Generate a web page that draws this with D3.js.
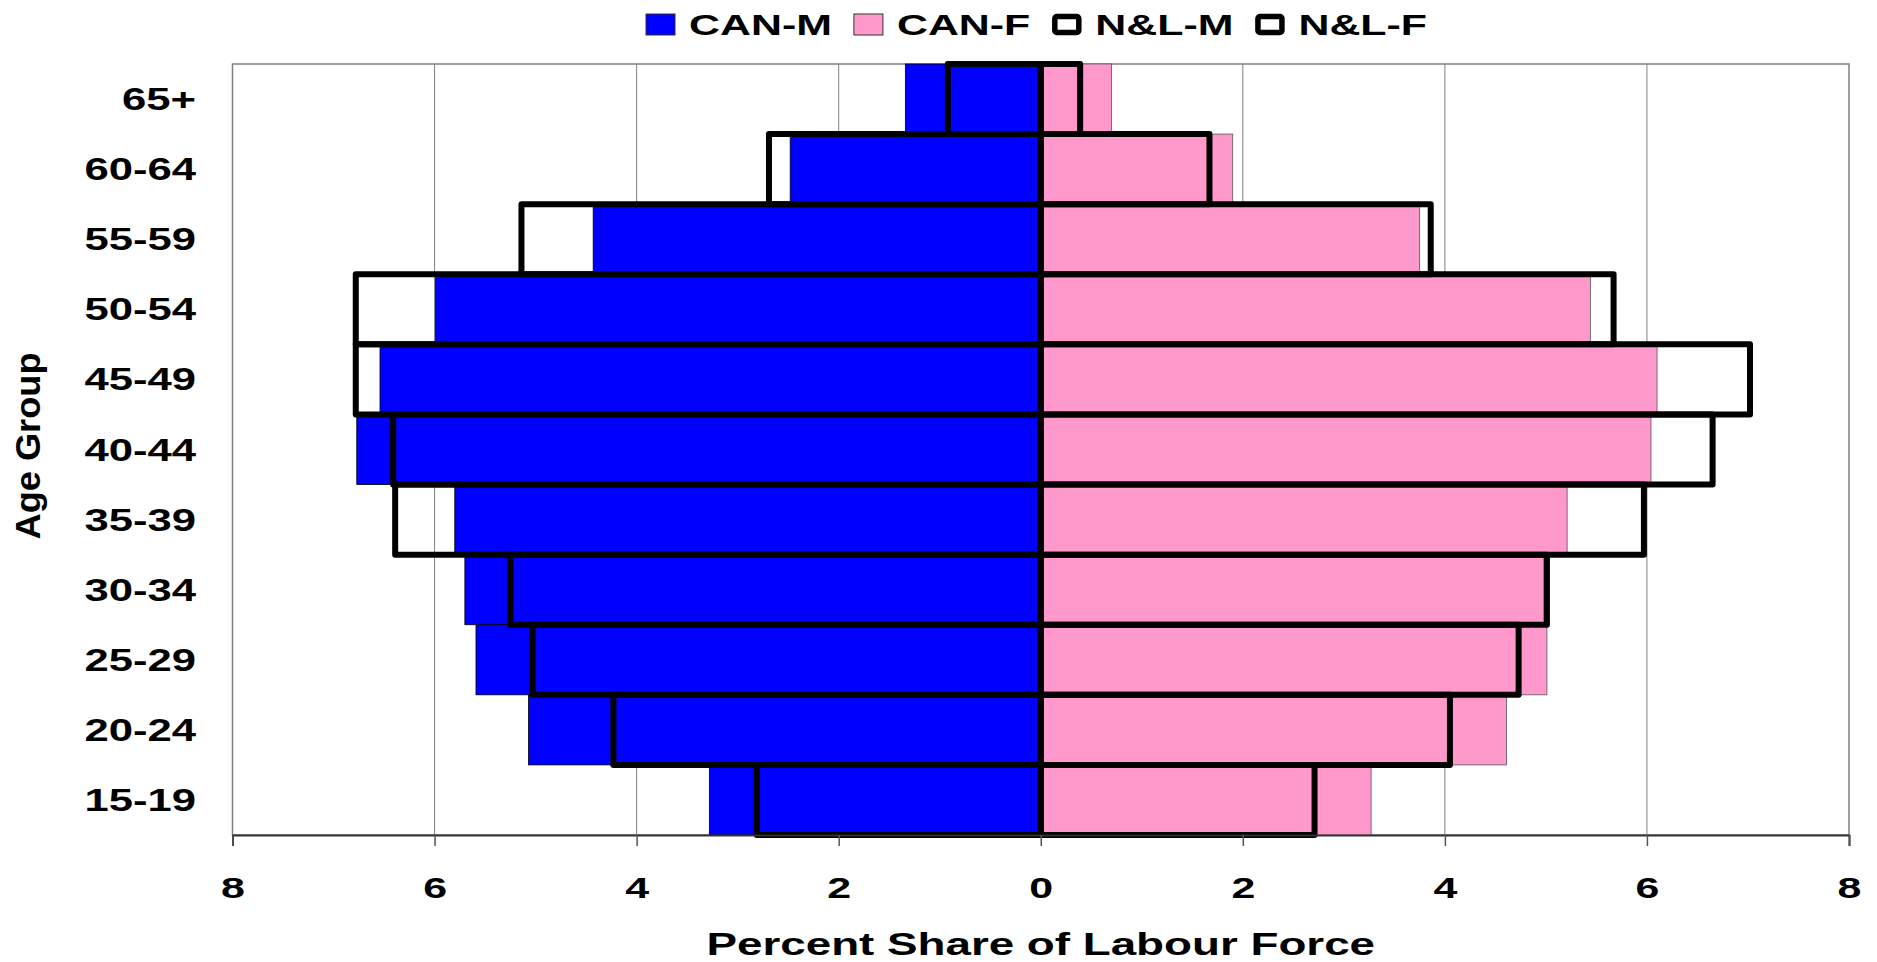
<!DOCTYPE html>
<html>
<head>
<meta charset="utf-8">
<script src="https://cdn.jsdelivr.net/npm/d3@7"></script>
<style>
  body { margin: 0; background: #fff; }
  text { font-family: "Liberation Sans", Arial, sans-serif; font-weight: bold; fill: #000; }
</style>
</head>
<body>
<div id="chart"></div>
<script>
"use strict";
// age groups, top row first
var ageGroups = ["65+", "60-64", "55-59", "50-54", "45-49", "40-44", "35-39", "30-34", "25-29", "20-24", "15-19"];
// percent share of labour force
var canM = [1.34, 2.48, 4.43, 5.99, 6.54, 6.77, 5.80, 5.70, 5.59, 5.07, 3.28];
var canF = [0.70, 1.90, 3.75, 5.44, 6.10, 6.04, 5.21, 4.98, 5.01, 4.61, 3.27];
var nlM = [0.92, 2.69, 5.14, 6.78, 6.78, 6.41, 6.39, 5.25, 5.03, 4.23, 2.81];
var nlF = [0.39, 1.67, 3.86, 5.67, 7.02, 6.65, 5.97, 5.01, 4.73, 4.05, 2.71];
var xTicks = [-8, -6, -4, -2, 0, 2, 4, 6, 8];
var legendItems = [
  { name: "CAN-M", kind: "fill", color: "#0000ff" },
  { name: "CAN-F", kind: "fill", color: "#ff99cc" },
  { name: "N&L-M", kind: "outline" },
  { name: "N&L-F", kind: "outline" }
];

var W = 1877, H = 962;
var plotL = 232.5, plotR = 1849, plotT = 64, plotB = 835;
var stretch = 1.43; // text in the original is drawn wide

var svg = d3.select("#chart").append("svg")
  .attr("width", W)
  .attr("height", H);

var x = d3.scaleLinear().domain([-8, 8]).range([plotL, plotR]);
var y = d3.scaleBand().domain(ageGroups).range([plotT, plotB]).padding(0);

//gridlines
svg.append("g").selectAll("line")
  .data(xTicks.filter(function(t) { return t !== 0 && Math.abs(t) !== 8; }))
  .enter().append("line")
  .attr("x1", function(d) { return x(d); })
  .attr("x2", function(d) { return x(d); })
  .attr("y1", plotT)
  .attr("y2", plotB)
  .attr("stroke", "#808080")
  .attr("stroke-width", 1);

//plot border
svg.append("rect")
  .attr("x", plotL)
  .attr("y", plotT)
  .attr("width", plotR - plotL)
  .attr("height", plotB - plotT)
  .attr("fill", "none")
  .attr("stroke", "#808080")
  .attr("stroke-width", 1.5);

//canada bars
var bars = svg.append("g");
bars.selectAll(".canm")
  .data(canM)
  .enter().append("rect")
  .attr("class", "canm")
  .attr("x", function(d) { return x(-d); })
  .attr("y", function(d, i) { return y(ageGroups[i]); })
  .attr("width", function(d) { return x(0) - x(-d); })
  .attr("height", y.bandwidth())
  .attr("fill", "#0000ff")
  .attr("stroke", "#000")
  .attr("stroke-width", 0.8);

bars.selectAll(".canf")
  .data(canF)
  .enter().append("rect")
  .attr("class", "canf")
  .attr("x", x(0))
  .attr("y", function(d, i) { return y(ageGroups[i]); })
  .attr("width", function(d) { return x(d) - x(0); })
  .attr("height", y.bandwidth())
  .attr("fill", "#ff99cc")
  .attr("stroke", "#555")
  .attr("stroke-width", 0.8);

//N&L outlines on top
var outlines = svg.append("g")
  .attr("fill", "none")
  .attr("stroke", "#000")
  .attr("stroke-width", 6)
  .attr("stroke-linejoin", "round");

outlines.selectAll(".nlm")
  .data(nlM)
  .enter().append("rect")
  .attr("class", "nlm")
  .attr("x", function(d) { return x(-d); })
  .attr("y", function(d, i) { return y(ageGroups[i]); })
  .attr("width", function(d) { return x(0) - x(-d); })
  .attr("height", y.bandwidth());

outlines.selectAll(".nlf")
  .data(nlF)
  .enter().append("rect")
  .attr("class", "nlf")
  .attr("x", x(0))
  .attr("y", function(d, i) { return y(ageGroups[i]); })
  .attr("width", function(d) { return x(d) - x(0); })
  .attr("height", y.bandwidth());

//x axis
var xAxis = svg.append("g")
  .attr("transform", "translate(0," + plotB + ")")
  .call(d3.axisBottom(x)
    .tickValues(xTicks)
    .tickSize(11)
    .tickFormat(function(d) { return Math.abs(d); }));
xAxis.select(".domain").attr("stroke", "#333").attr("stroke-width", 2);
xAxis.selectAll(".tick line").attr("stroke", "#555").attr("stroke-width", 1.5);
xAxis.selectAll(".tick text")
  .attr("y", 63)
  .attr("dy", 0)
  .attr("font-size", 30)
  .attr("font-family", "Liberation Sans, Arial, sans-serif")
  .attr("font-weight", "bold")
  .attr("fill", "#000")
  .attr("transform", "scale(" + stretch + ",1)");

//age labels
svg.append("g").selectAll("text")
  .data(ageGroups)
  .enter().append("text")
  .attr("transform", function(d) {
    return "translate(196," + (y(d) + y.bandwidth() / 2 + 11) + ") scale(" + stretch + ",1)";
  })
  .attr("text-anchor", "end")
  .attr("font-size", 30.5)
  .text(function(d) { return d; });

//axis titles
svg.append("text")
  .attr("transform", "translate(" + x(0) + ",955) scale(" + stretch + ",1)")
  .attr("text-anchor", "middle")
  .attr("font-size", 32)
  .text("Percent Share of Labour Force");

svg.append("text")
  .attr("transform", "translate(40,446) rotate(-90)")
  .attr("text-anchor", "middle")
  .attr("font-size", 35)
  .attr("textLength", 187)
  .attr("lengthAdjust", "spacingAndGlyphs")
  .text("Age Group");

//legend
var lx = 646;
legendItems.forEach(function(item) {
  var g = svg.append("g");
  if (item.kind === "fill") {
    g.append("rect")
      .attr("x", lx).attr("y", 14)
      .attr("width", 29).attr("height", 21)
      .attr("fill", item.color)
      .attr("stroke", "#333")
      .attr("stroke-width", 1);
  } else {
    g.append("rect")
      .attr("x", lx + 2.5).attr("y", 16.5)
      .attr("width", 24).attr("height", 16)
      .attr("rx", 2)
      .attr("fill", "#fff")
      .attr("stroke", "#000")
      .attr("stroke-width", 5.5);
  }
  var t = g.append("text")
    .attr("transform", "translate(" + (lx + 43) + ",35) scale(" + stretch + ",1)")
    .attr("font-size", 30)
    .text(item.name);
  var tw = t.node().getComputedTextLength() * stretch;
  lx += 43 + tw + 22;
});
</script>
</body>
</html>
